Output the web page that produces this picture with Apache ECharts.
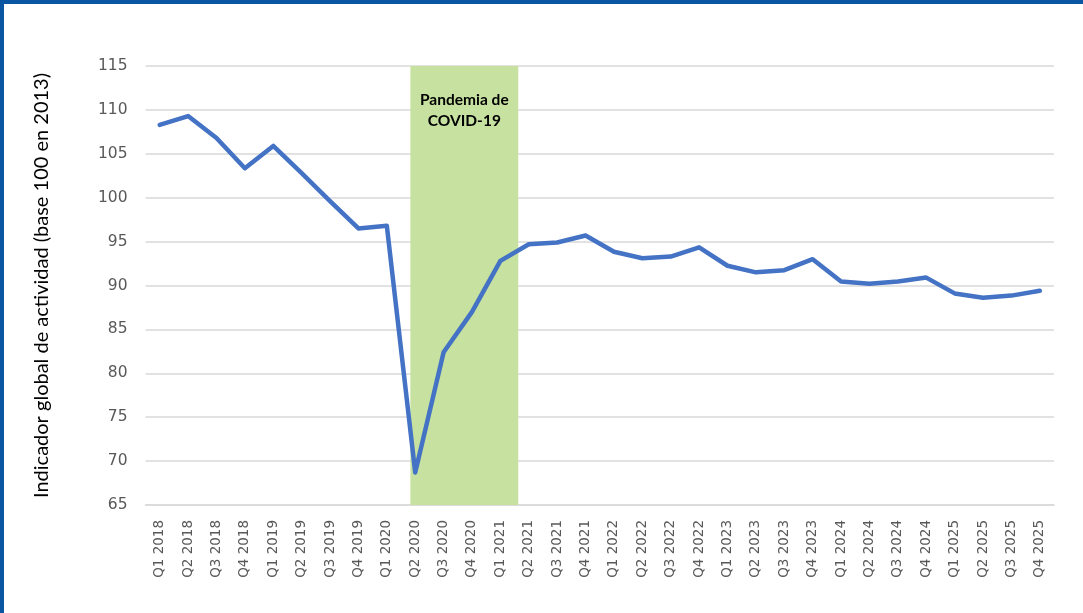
<!DOCTYPE html>
<html>
<head>
<meta charset="utf-8">
<script src="https://cdn.jsdelivr.net/npm/echarts@6/dist/echarts.min.js"></script>
<style>
html,body{margin:0;padding:0;background:#fff;}
#wrap{position:relative;width:1083px;height:613px;overflow:hidden;}
#chart{position:absolute;left:0;top:0;width:1083px;height:613px;}
#bt{position:absolute;left:0;top:0;width:1083px;height:4px;background:#0b56a2;}
#bl{position:absolute;left:0;top:0;width:4px;height:613px;background:#0b56a2;}
</style>
</head>
<body>
<div id="wrap"><div id="chart"></div><div id="bt"></div><div id="bl"></div></div>
<script>
const categories = [
  'Q1 2018','Q2 2018','Q3 2018','Q4 2018',
  'Q1 2019','Q2 2019','Q3 2019','Q4 2019',
  'Q1 2020','Q2 2020','Q3 2020','Q4 2020',
  'Q1 2021','Q2 2021','Q3 2021','Q4 2021',
  'Q1 2022','Q2 2022','Q3 2022','Q4 2022',
  'Q1 2023','Q2 2023','Q3 2023','Q4 2023',
  'Q1 2024','Q2 2024','Q3 2024','Q4 2024',
  'Q1 2025','Q2 2025','Q3 2025','Q4 2025'
];
const activityIndex = [
  108.3, 109.3, 106.8, 103.35,
  105.9, 102.8, 99.6, 96.5,
  96.8, 68.7, 82.4, 87.0,
  92.8, 94.7, 94.9, 95.7,
  93.85, 93.1, 93.3, 94.35,
  92.25, 91.5, 91.75, 93.0,
  90.45, 90.2, 90.45, 90.9,
  89.1, 88.6, 88.85, 89.4
];
// pandemic shading span, in category-index units
const covidSpan = [8.83, 12.63];
const covidLabel = 'Pandemia de\nCOVID-19';
const yAxisTitle = 'Indicador global de actividad (base 100 en 2013)';
const yTicks = {min: 65, max: 115, interval: 5};

const chart = echarts.init(document.getElementById('chart'));
chart.setOption({
  animation: false,
  backgroundColor: 'transparent',
  grid: {left: 145.5, right: 29, top: 66, bottom: 108},
  xAxis: [{
    type: 'category',
    data: categories,
    boundaryGap: true,
    axisLine: {show: true, lineStyle: {color: '#d9d9d9', width: 1.5}},
    axisTick: {show: false},
    axisLabel: {
      rotate: 90, margin: 15, interval: 0,
      color: '#595959', fontFamily: 'DejaVu Sans', fontSize: 13.5
    },
    splitLine: {show: false}
  }, {
    type: 'value', min: -0.5, max: categories.length - 0.5, show: false
  }],
  yAxis: {
    type: 'value',
    min: yTicks.min, max: yTicks.max, interval: yTicks.interval,
    z: 1,
    name: yAxisTitle,
    nameLocation: 'middle',
    nameRotate: 90,
    nameGap: 94,
    nameTextStyle: {color: '#000', fontFamily: 'Lato', fontSize: 20},
    axisLine: {show: false},
    axisTick: {show: false},
    axisLabel: {margin: 18, color: '#595959', fontFamily: 'DejaVu Sans', fontSize: 15.5},
    splitLine: {show: true, lineStyle: {color: '#d9d9d9', width: 1.5}}
  },
  series: [{
    type: 'line',
    xAxisIndex: 1,
    data: [],
    z: 0,
    silent: true,
    markArea: {
      silent: true,
      itemStyle: {color: '#c6e1a0'},
      label: {
        show: true, position: 'insideTop', distance: 23,
        formatter: covidLabel,
        color: '#000', fontFamily: 'Lato', fontWeight: 'bold', fontSize: 15.5, lineHeight: 21
      },
      data: [[{xAxis: covidSpan[0]}, {xAxis: covidSpan[1]}]]
    }
  }, {
    type: 'line',
    data: activityIndex,
    z: 3,
    symbol: 'none',
    smooth: false,
    lineStyle: {color: '#4472c4', width: 4.5, join: 'round', cap: 'round'}
  }]
});
</script>
</body>
</html>
